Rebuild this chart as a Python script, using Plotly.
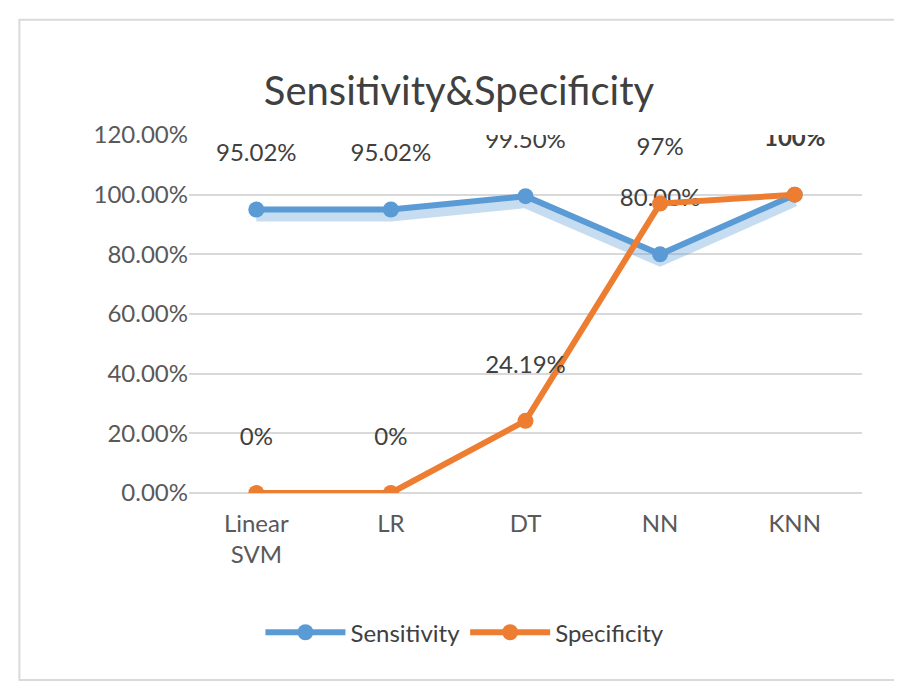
import plotly.graph_objects as go

## Data
models = ["Linear<br>SVM", "LR", "DT", "NN", "KNN"]
sensitivity = [0.9502, 0.9502, 0.9950, 0.80, 1.0]
specificity = [0.0, 0.0, 0.2419, 0.97, 1.0]
sens_labels = ["95.02%", "95.02%", "99.50%", "80.00%", ""]
spec_labels = ["0%", "0%", "24.19%", "97%", "<b>100%</b>"]

blue = "#5b9bd5"
orange = "#ed7d31"
font = "Lato, Open Sans, sans-serif"

fig = go.Figure()
# soft glow under the blue line
fig.add_trace(go.Scatter(x=models, y=[v - 0.02 for v in sensitivity], mode="lines",
                         line=dict(color="rgba(91,155,213,0.35)", width=12),
                         showlegend=False, hoverinfo="skip"))
fig.add_trace(go.Scatter(x=models, y=sensitivity, name="Sensitivity", mode="lines+markers+text",
                         line=dict(color=blue, width=6), marker=dict(size=16, color=blue),
                         text=[s + "<br> " for s in sens_labels], textposition="top center",
                         textfont=dict(size=24, color="#404040")))
fig.add_trace(go.Scatter(x=models, y=specificity, name="Specificity", mode="lines+markers+text",
                         line=dict(color=orange, width=6), marker=dict(size=16, color=orange),
                         text=[s + "<br> " for s in spec_labels], textposition="top center",
                         textfont=dict(size=24, color="#404040")))

fig.update_layout(
    width=902, height=689,
    paper_bgcolor="white", plot_bgcolor="white",
    font=dict(family=font, color="#595959"),
    title=dict(text="Sensitivity&Specificity", x=0.5, xanchor="center", y=0.9,
               font=dict(size=40, color="#404040")),
    margin=dict(l=181, r=48, t=127, b=204),
    legend=dict(orientation="h", x=0.41, xanchor="center", y=-0.39, yanchor="middle",
                font=dict(size=24, color="#404040"), itemwidth=80),
    xaxis=dict(range=[-0.5, 4.5], showgrid=False, ticks="", showline=False,
               ticklabelstandoff=14, tickfont=dict(size=24, color="#595959")),
    yaxis=dict(range=[0, 1.2], dtick=0.2, tickformat=".2%", gridcolor="#d9d9d9",
               gridwidth=2, zeroline=True, zerolinecolor="#d9d9d9", zerolinewidth=2,
               tickfont=dict(size=24, color="#595959")),
    shapes=[dict(type="rect", xref="paper", yref="paper", x0=-0.252, x1=1.06,
                 y0=-0.522, y1=1.322, line=dict(color="#d9d9d9", width=2))],
)

fig.write_html("out.html")
